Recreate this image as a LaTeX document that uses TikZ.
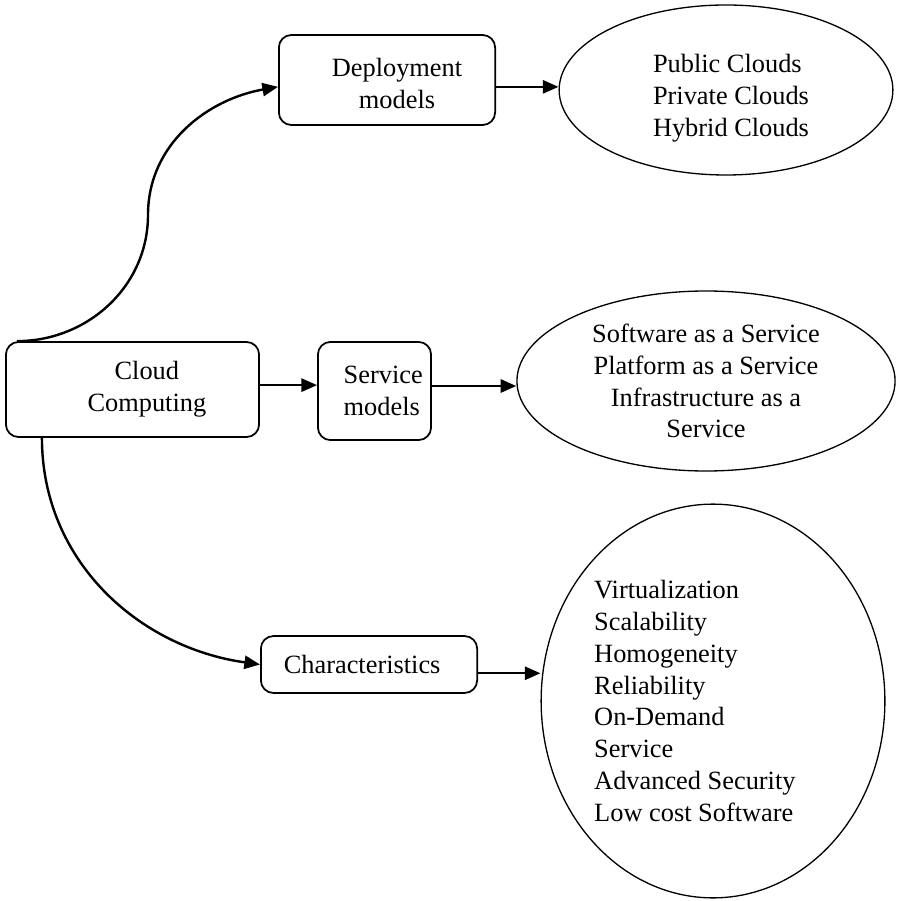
\documentclass[tikz,border=0pt]{standalone}
\usepackage{fontspec}
\setmainfont{Liberation Serif}
\usetikzlibrary{shapes.geometric, arrows.meta}

\begin{document}
\begin{tikzpicture}[
    x=0.16mm, y=-0.16mm,
    every node/.style={font=\fontsize{12}{14.5}\selectfont, align=center},
    box/.style   ={draw, thick, rounded corners=2mm, inner sep=0pt},
    oval/.style  ={draw, semithick, ellipse, inner sep=0pt},
    arrow/.style ={-{Triangle[length=2.5mm, width=2.1mm]}, line width=1.1pt}
]
\useasboundingbox (0,0) rectangle (896,901);
% Boxes
\node[box, minimum width=40.5mm, minimum height=15.2mm,
      label={[xshift=2.3mm]center:Cloud\\Computing}] (cloud) at (132.5,389.5) {};
\node[box, minimum width=34.6mm, minimum height=14.4mm,
      label={[xshift=1.6mm, yshift=-0.5mm]center:Deployment\\models}] (depl) at (387,80) {};
\node[box, minimum width=18.1mm, minimum height=15.7mm,
      label={[align=left, xshift=1.4mm]center:Service\\models}] (service) at (374.5,391) {};
\node[box, minimum width=34.6mm, minimum height=9.1mm,
      label={[xshift=-1.1mm]center:Characteristics}] (chars) at (369,664.5) {};
% Ellipses
\node[oval, minimum width=53.4mm, minimum height=27.2mm,
      label={[align=left, xshift=0.8mm, yshift=-1.3mm]center:Public Clouds\\Private Clouds\\Hybrid Clouds}] (ell1) at (726,90) {};
\node[oval, minimum width=60.5mm, minimum height=28.8mm,
      label={center:Software as a Service\\Platform as a Service\\Infrastructure as a\\Service}] (ell2) at (706,381) {};
\node[oval, minimum width=55mm, minimum height=63mm,
      label={[align=left, xshift=-2.9mm]center:Virtualization\\Scalability\\Homogeneity\\Reliability\\On-Demand\\Service\\Advanced Security\\Low cost Software}] (ell3) at (713,701) {};
% Curved arrows out of the root box
\coordinate (bend) at (148,215);
\draw[arrow] ([xshift=1.9mm]cloud.north west) to[out=0, in=-90] (bend)
    to[out=90, in=190] ([yshift=-1.1mm]depl.west);
\draw[arrow] ([xshift=5.9mm]cloud.south west) to[out=-90, in=172] (chars.west);
% Straight arrows
\draw[arrow] ([yshift=0.7mm]cloud.east) -- ([yshift=0.7mm]cloud.east -| service.west);
\draw[arrow] ([yshift=0.8mm]service.east) -- ([yshift=0.8mm]service.east -| ell2.west);
\draw[arrow] ([yshift=-1.1mm]depl.east) -- ([yshift=-1.1mm]depl.east -| ell1.west);
\draw[arrow] ([yshift=-1.4mm]chars.east) -- ([yshift=-1.4mm]chars.east -| ell3.west);
\end{tikzpicture}
\end{document}
